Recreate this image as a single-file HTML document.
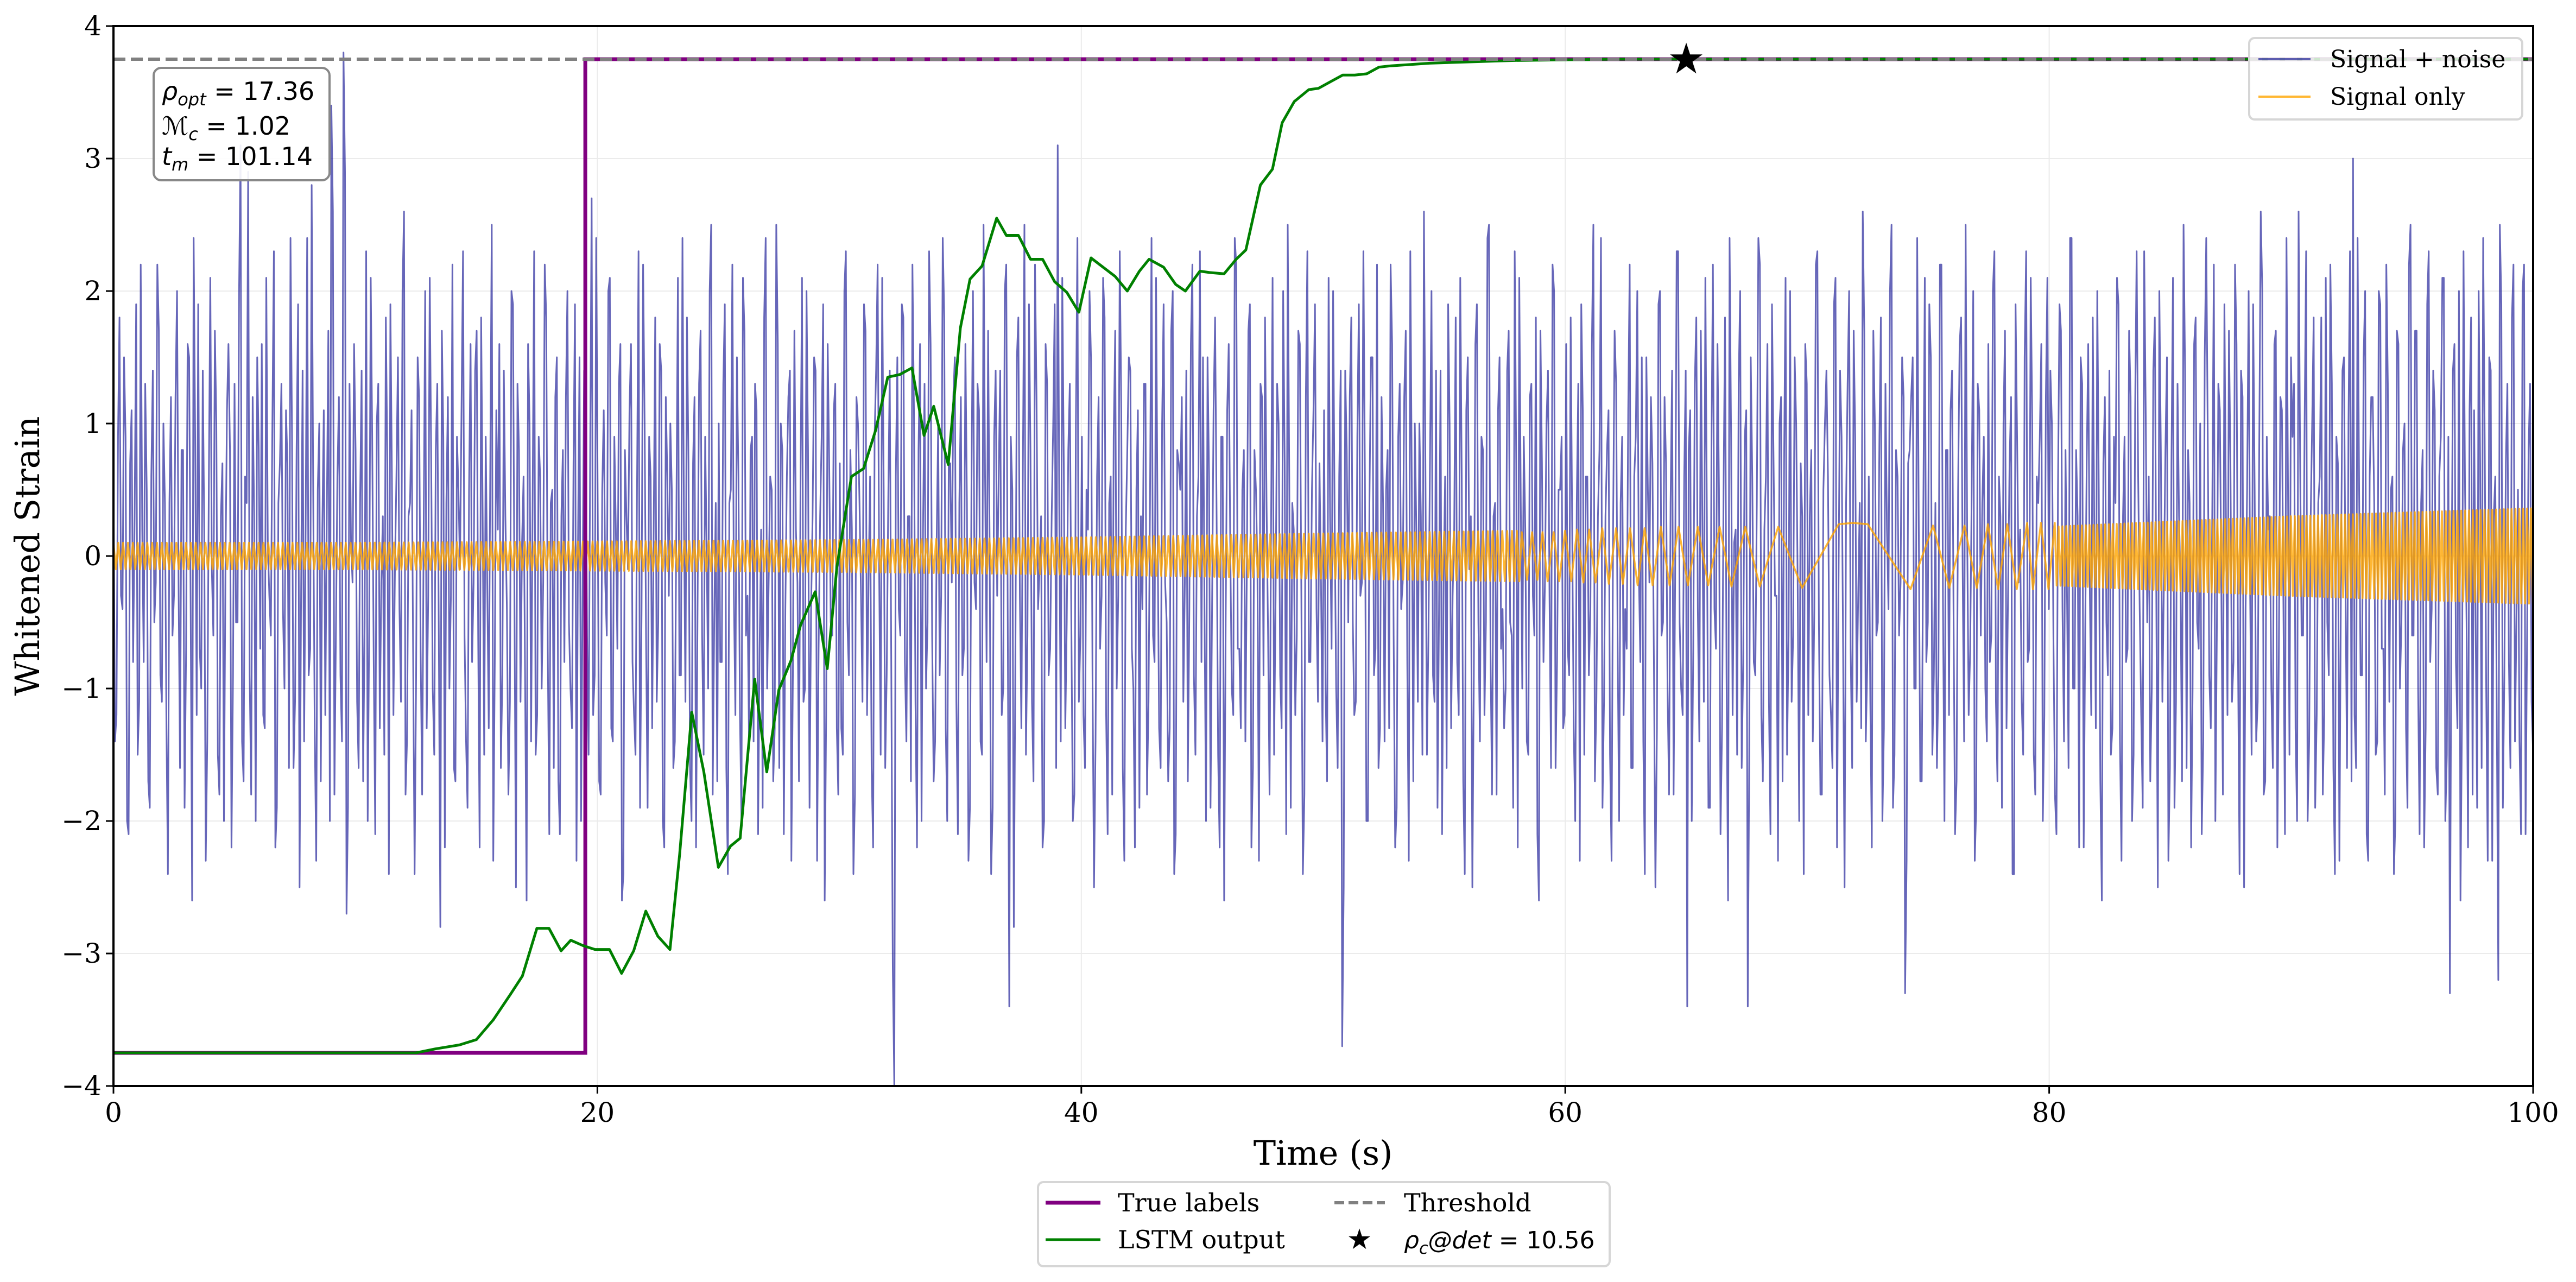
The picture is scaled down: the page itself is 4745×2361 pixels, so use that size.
<!DOCTYPE html>
<html><head><meta charset="utf-8"><style>
html,body{margin:0;padding:0;background:#fff;}
svg{display:block;}
text{font-family:"DejaVu Serif","Liberation Serif",serif;}
.m{font-family:"DejaVu Sans","Liberation Sans",sans-serif;}
</style></head><body>
<svg id="chart" width="4745" height="2361" viewBox="0 0 4745 2361" xmlns="http://www.w3.org/2000/svg">
<rect x="0" y="0" width="4745" height="2361" fill="#fff"/>
<g id="grid"></g>
<g id="series"></g>
<rect x="209" y="48" width="4457" height="1952" fill="none" stroke="#000" stroke-width="4"/>
<g id="ticks"></g>
<text x="2437" y="2145" font-size="62" text-anchor="middle">Time (s)</text>
<text transform="translate(72,1024) rotate(-90)" font-size="62" text-anchor="middle">Whitened Strain</text>

<g>
<rect x="283" y="125" width="324" height="207" rx="14" fill="#fff" fill-opacity="0.9" stroke="#888" stroke-width="4"/>
<text class="m" x="298" y="184" font-size="46"><tspan font-style="italic">ρ</tspan><tspan font-style="italic" font-size="32" dy="10">opt</tspan><tspan dy="-10"> = 17.36</tspan></text>
<text class="m" x="298" y="248" font-size="46"><tspan font-style="italic">ℳ</tspan><tspan font-style="italic" font-size="32" dy="10">c</tspan><tspan dy="-10"> = 1.02</tspan></text>
<text class="m" x="298" y="304" font-size="46"><tspan font-style="italic">t</tspan><tspan font-style="italic" font-size="32" dy="10">m</tspan><tspan dy="-10"> = 101.14</tspan></text>
</g>

<g>
<rect x="4143" y="70" width="503" height="150" rx="10" fill="#fff" fill-opacity="0.8" stroke="#d6d6d6" stroke-width="4"/>
<g>
<line x1="4160" y1="109" x2="4256" y2="109" stroke="#00008b" stroke-opacity="0.6" stroke-width="4"/>
<text x="4292" y="124" font-size="44">Signal + noise</text></g>
<g>
<line x1="4160" y1="178" x2="4256" y2="178" stroke="#ffa500" stroke-opacity="0.8" stroke-width="4"/>
<text x="4292" y="193" font-size="44">Signal only</text></g>
</g>

<g>
<rect x="1912" y="2177" width="1053" height="155" rx="10" fill="#fff" stroke="#d6d6d6" stroke-width="4"/>
<g>
<line x1="1926" y1="2215" x2="2027" y2="2215" stroke="#800080" stroke-width="7"/>
<text x="2059" y="2231" font-size="46">True labels</text></g>
<g>
<line x1="2458" y1="2215" x2="2551" y2="2215" stroke="#808080" stroke-width="6" stroke-dasharray="18,8"/>
<text x="2586" y="2231" font-size="46">Threshold</text></g>
<g>
<line x1="1926" y1="2283" x2="2027" y2="2283" stroke="#008000" stroke-width="5"/>
<text x="2059" y="2299" font-size="46">LSTM output</text></g>
<g>
<text x="2504" y="2300" font-size="52" text-anchor="middle" class="m">★</text>
<text class="m" x="2586" y="2299" font-size="44"><tspan font-style="italic">ρ</tspan><tspan font-style="italic" font-size="30" dy="10">c</tspan><tspan dy="-10" font-style="italic">@det</tspan><tspan> = 10.56</tspan></text></g>
</g>
</svg>
<script>
const xTicks=[0,20,40,60,80,100];
const yTicks=[-4,-3,-2,-1,0,1,2,3,4];
const noiseA=[
0.6,-1.2,1.8,-0.4,0.9,-2.1,1.1,0.3,-1.5,2.2,-0.8,0.5,-1.9,1.4,-0.2,1.7,-1.1,0.4,-2.4,1.2,
-0.3,2.0,-1.6,0.8,-0.7,1.5,-2.6,0.9,1.9,-1.0,0.2,-1.4,2.1,-0.6,1.0,-1.8,0.7,-0.1,1.6,-2.2,
1.3,-0.5,3.1,-1.7,0.4,-0.9,1.2,-2.0,0.8,1.6,-1.3,0.1,-0.6,2.3,-1.9,0.7,-0.4,1.1,-1.6,0.9,
-1.1,1.9,-0.3,-1.4,2.4,-0.7,0.5,-2.3,1.0,0.2,-1.2,1.7,3.4,-1.8,0.6,-0.9,3.8,-2.7,1.3,-0.2,
0.8,-1.6,1.4,-0.5,-2.0,2.1,-0.8,1.0,-1.3,0.3,1.8,-2.4,0.6,-0.1,1.5,-1.1,2.6,-1.4,0.4,-0.7,
-0.9,1.2,-1.8,2.0,-0.3,0.7,-1.5,1.3,-2.8,0.9,0.4,-1.0,2.2,-1.7,0.5,1.1,-0.6,-1.9,1.6,-0.2,
1.7,-2.2,0.3,0.9,-1.3,2.5,-0.8,0.2,-1.6,1.4,-0.4,-1.1,1.9,-2.5,0.8,0.1,-0.9,1.6,-1.4,2.3,
-1.2,0.6,-0.2,1.8,-2.1,0.5,1.2,-1.7,0.3,-0.8,2.0,-1.0,0.7,-2.3,1.5,-0.3,1.0,-1.5,2.7,-0.9,
0.4,-1.8,1.1,-0.6,2.1,-1.4,0.2,1.3,-2.6,0.8,-0.1,1.6,-1.2,0.5,-1.9,2.2,-0.7,0.9,-1.3,1.8,
-0.5,1.4,-2.2,0.6,1.0,-1.6,0.3,-0.9,2.4,-1.1,0.7,-2.0,1.2,-0.4,1.7,-1.5,0.1,2.0,-1.8,0.4,
1.0,-0.8,1.9,-2.4,0.5,-0.3,1.5,-1.2,2.1,-0.6,-1.4,0.9,1.3,-2.1,0.2,1.8,-1.0,0.6,-1.7,2.5,
-1.6,0.8,-0.4,1.2,-2.3,1.7,-0.2,0.5,-1.1,2.0,-1.9,0.3,1.4,-0.7,0.9,-2.6,1.6,-0.5,1.1,-1.3,
0.7,-1.5,2.3,-0.9,0.2,-1.8,1.0,-0.3,1.9,-1.2,0.6,-2.2,1.4,-0.1,2.1,-1.6,0.4,-0.8,-4.0,1.5,
-0.6,1.8,-1.4,0.3,2.2,-1.1,0.8,-2.0,1.3,-0.5,1.6,-1.7,0.1,-0.9,2.4,-1.3,0.7,-0.2,1.5,-2.1,
1.2,-0.7,0.4,-1.9,2.0,-0.4,1.1,-1.5,0.6,1.7,-2.4,0.9,-0.3,1.4,-1.0,2.2,-3.4,0.5,-0.8,1.8,
-1.3,2.5,-0.6,0.8,-1.7,1.2,-0.1,-2.2,1.6,-0.9,0.3,1.9,3.1,-1.4,0.7,-0.5,1.3,-2.0,1.0,-1.1,
0.9,-1.6,0.2,1.5,-2.5,0.6,-0.7,2.1,-1.2,0.4,-1.8,1.7,-0.3,1.1,-2.3,0.8,1.4,-1.0,0.5,-1.9,
-0.4,1.3,-1.1,2.4,-0.8,0.2,-1.6,1.9,-0.5,-1.3,2.0,-2.1,0.7,1.2,-0.2,-1.7,1.6,-0.9,0.3,2.3,
1.5,-2.0,0.6,-0.4,1.8,-1.5,0.9,-2.6,1.1,0.1,-1.2,2.2,-0.7,0.5,-1.4,1.7,-2.2,0.8,-0.1,1.3,
-0.9,0.4,-1.8,2.1,-0.3,1.0,-1.3,0.7,2.5,-1.9,0.2,-0.6,1.6,-2.4,1.2,-0.8,0.5,1.9,-1.1,-0.2,
1.1,-1.7,0.3,2.0,-1.0,0.6,-3.7,1.4,-0.5,1.8,-1.2,0.9,-0.3,2.3,-2.0,0.4,1.5,-0.7,-1.6,1.2,
-1.4,0.8,2.2,-0.6,-1.9,1.3,-0.2,1.7,-2.3,0.5,1.0,-1.1,0.3,2.6,-1.5,0.7,-0.9,1.4,-0.4,-2.1,
0.6,1.9,-1.3,0.2,-0.8,2.1,-1.7,1.1,-0.1,-2.5,1.6,-0.5,0.9,-1.2,2.4,-0.7,0.3,-1.8,1.5,-0.4,
-1.0,1.7,-0.6,2.3,-2.2,0.4,0.9,-1.4,1.2,-0.3,1.8,-2.6,0.7,-0.2,1.4,-1.6,2.0,-0.8,0.5,-1.3,
1.6,-0.9,0.2,-2.0,1.3,1.9,-1.5,0.6,-0.4,2.5,-1.1,0.8,-1.9,0.3,1.1,-2.3,1.7,-0.6,0.4,-1.2,
-0.7,2.2,-1.6,0.9,-0.1,1.5,-2.4,0.5,1.2,-0.8,-1.3,2.0,-0.5,0.7,-1.8,1.4,-0.2,2.3,-1.0,0.6,
-3.4,1.1,-0.7,1.8,-1.4,0.3,2.1,-1.9,0.8,-0.4,1.6,-2.1,0.5,-0.9,2.4,-1.2,0.2,1.3,-1.6,0.9,
-3.4,1.5,-0.8,0.4,2.2,-1.7,0.6,-1.1,1.9,-0.3,-2.3,1.2,0.7,-1.5,2.0,-0.6,1.0,-2.0,0.3,1.6,
-1.2,0.8,-0.4,2.3,-1.8,0.5,1.4,-0.9,-1.6,2.1,-0.2,0.9,-2.5,1.3,-0.7,1.7,-1.1,0.4,2.6,-1.4,
0.6,-2.2,1.0,-0.5,1.8,-1.3,0.2,2.0,-1.9,0.8,-0.6,1.5,-3.3,0.7,1.2,-1.0,2.4,-1.7,0.3,-0.8,
1.9,-1.5,0.4,-0.9,2.2,-2.0,0.8,1.1,-0.4,-1.7,1.6,-0.1,2.5,-1.2,0.5,-2.3,1.3,-0.6,0.9,-1.4,
-0.8,2.0,-1.1,0.6,-1.9,1.7,-0.3,1.2,-2.4,0.9,0.2,-1.5,2.3,-0.7,1.0,-1.8,0.4,1.6,-1.2,2.1,
1.4,-0.6,-2.1,1.9,-0.4,0.8,-1.6,2.4,-1.0,0.3,1.5,-2.2,0.7,-0.2,1.8,-1.3,0.5,-2.6,1.2,-0.9,
-1.5,0.9,2.1,-1.4,0.3,-0.8,1.7,-2.0,1.1,0.6,-1.2,2.3,-0.5,-1.7,1.4,-0.3,2.0,-1.1,0.8,-2.3,
0.7,-1.9,1.3,-0.2,2.5,-1.6,0.4,-1.0,1.8,-0.7,-2.1,1.5,0.9,-1.3,2.2,-0.6,1.1,-1.8,0.3,1.7,
-1.1,2.2,-0.8,1.4,-2.5,0.5,-0.3,1.9,-1.4,0.8,2.0,-1.7,0.2,-1.0,1.6,-2.2,1.2,-0.4,2.4,-1.5,
0.9,-1.3,2.6,-0.6,1.0,-2.0,0.3,1.8,-1.2,0.6,-1.8,2.1,-0.9,1.3,-2.4,0.7,-0.2,1.5,-1.6,2.3,
3.0,-1.6,0.5,-0.9,2.0,-2.3,1.2,0.4,-1.4,1.9,-0.7,2.2,-1.1,0.6,-2.0,1.6,-0.5,1.0,-1.9,2.5,
-0.6,1.7,-2.1,0.8,-1.3,2.3,-0.4,1.1,-1.8,0.9,2.1,-1.5,-3.3,1.4,-0.8,2.0,-1.2,0.5,-2.2,1.8,
1.1,-1.9,0.7,2.4,-1.0,1.5,-2.3,0.6,-3.2,1.9,-0.9,1.3,-1.6,2.2,-0.5,-1.4,2.0,-2.1,0.8,-1.1];
const noiseB=[
-1.4,0.9,-0.3,1.5,-2.0,0.7,-0.8,1.9,-1.1,0.2,1.3,-1.7,0.6,-0.5,2.2,-0.9,1.0,-1.3,0.4,-0.6,
1.2,-0.2,0.8,-1.9,1.6,-0.4,2.4,-1.2,-0.7,1.4,-2.3,0.5,-0.1,1.7,-1.5,0.3,-2.0,1.1,0.8,-0.9,
-0.5,2.0,-1.4,0.6,2.9,-1.8,0.3,1.5,-0.7,-1.2,2.1,-0.3,1.0,-2.2,0.4,1.3,-1.0,0.7,2.4,-1.6,
0.8,-2.5,1.4,0.2,-0.9,2.8,-1.3,0.5,-1.7,1.1,0.3,-2.0,2.6,-0.6,1.2,-1.4,2.9,-1.9,0.1,1.6,
-1.1,0.4,-1.7,2.3,-0.5,0.9,-2.1,1.3,-0.2,-1.5,0.7,1.9,-1.2,0.6,-0.4,2.0,-1.8,0.3,1.1,-2.4,
1.5,-0.7,0.2,-1.3,2.1,-1.0,0.8,-0.6,1.7,-2.2,1.2,-0.3,-1.6,0.9,-0.1,2.3,-1.4,0.5,-0.8,1.4,
-0.6,1.8,-1.5,-0.2,0.7,-2.3,1.1,1.6,-0.9,0.3,-1.8,2.0,-0.4,1.3,-1.1,0.6,-2.6,1.0,0.4,-1.5,
0.9,-1.0,2.2,-0.7,0.4,-1.6,1.5,-2.1,0.8,1.2,-0.5,-1.3,1.9,0.1,-2.0,1.4,-0.6,0.7,-1.2,2.4,
-1.7,0.5,-0.2,2.0,-1.3,0.9,-0.7,1.6,-2.4,0.3,1.1,-0.8,-1.5,2.3,-0.4,1.0,-1.9,0.6,0.2,-1.1,
1.6,-2.0,1.2,-0.3,0.5,-1.4,2.1,-0.9,0.3,1.8,-1.6,0.7,-2.2,1.3,-0.6,0.9,-1.0,2.5,-0.5,-1.7,
-0.8,1.3,-1.6,0.4,2.2,-1.2,0.6,-2.0,1.7,-0.3,0.8,-1.4,1.1,-0.7,-1.9,2.4,-0.2,0.5,-1.3,1.6,
1.0,-2.1,0.6,1.4,-0.9,0.2,-1.7,2.1,-1.0,0.8,-0.4,1.5,-2.3,0.3,1.9,-1.2,0.7,-0.6,1.3,-1.8,
-1.3,2.0,-0.5,0.8,-2.4,1.2,0.4,-1.1,1.7,-0.2,-1.6,0.9,2.2,-1.5,0.5,-0.9,1.4,-3.1,0.6,-0.4,
1.9,-0.8,0.3,-1.7,1.1,-2.2,1.6,0.2,-1.0,2.3,-0.6,-1.4,1.0,-0.3,1.8,-2.0,0.7,1.2,-1.1,0.4,
-0.9,1.6,-2.3,0.5,-0.2,1.3,-1.4,2.5,-0.8,0.1,-1.9,1.4,0.6,-1.2,2.0,-0.5,0.9,-2.8,1.5,-0.3,
0.7,-1.5,1.9,-1.1,2.2,-0.4,0.3,-2.0,1.3,-0.7,1.0,-1.6,0.4,2.1,-1.3,0.8,-0.5,-1.8,2.4,-0.6,
-1.2,0.5,2.0,-0.9,-1.4,1.2,-0.3,1.8,-2.1,0.6,0.9,-1.0,2.3,-1.6,0.2,1.5,-0.7,-2.2,1.1,0.3,
1.3,-1.8,0.4,-0.6,2.1,-1.3,1.0,-0.2,-1.7,1.7,-2.4,0.8,0.5,-1.1,1.4,-0.4,2.2,-1.5,0.6,-0.8,
-0.4,1.5,-1.9,1.1,0.3,-2.2,0.9,-0.5,1.6,-1.0,2.4,-0.7,-1.3,0.8,-0.1,1.9,-1.6,0.5,-2.3,1.2,
1.8,-0.6,0.2,-1.5,1.3,-0.9,2.0,-2.1,0.6,0.4,-1.2,1.7,-0.3,-1.8,2.3,-0.8,1.1,-0.4,0.7,-1.4,
-1.0,2.1,-0.7,0.3,-1.6,1.4,-2.5,0.8,1.2,-0.5,-1.1,1.9,-0.2,0.6,-2.0,1.5,-0.9,2.2,-1.3,0.4,
0.5,-1.3,1.6,-2.2,0.9,-0.4,1.2,-0.8,2.3,-1.7,0.2,1.0,-1.5,0.7,-0.6,2.0,-1.1,-1.9,1.4,-0.2,
-1.6,1.0,-0.3,1.8,-1.2,0.6,-2.4,1.5,0.3,-0.9,1.9,-1.4,0.8,-0.5,2.5,-1.8,0.4,1.1,-0.7,-1.3,
1.4,-0.5,-1.9,0.7,2.1,-1.0,0.2,-1.5,1.3,-0.6,-2.1,1.7,-0.8,1.0,-0.3,2.2,-1.6,0.5,0.9,-1.2,
-0.7,1.8,-1.3,0.4,-2.3,1.1,0.6,-0.9,1.6,-1.7,0.3,2.4,-1.1,0.8,-1.5,0.2,1.3,-2.0,0.9,-0.4,
1.1,-1.6,0.6,2.0,-0.8,-1.4,1.5,-0.2,0.7,-2.5,1.9,-0.6,1.2,-1.0,0.4,-1.8,2.3,-0.5,-1.2,1.4,
0.8,-2.0,1.3,-0.4,1.7,-1.1,0.3,-1.9,2.2,-0.7,0.5,-1.3,1.8,-2.6,0.9,0.1,-1.5,2.0,-0.8,1.1,
-1.5,0.6,-0.9,2.4,-1.2,0.2,1.6,-2.1,0.8,-0.3,1.0,-1.7,2.1,-0.6,-1.1,1.5,-0.2,0.7,-2.4,1.3,
0.3,-1.4,2.2,-0.5,-1.8,1.0,0.6,-1.2,1.9,-2.2,1.4,-0.7,0.4,2.0,-1.6,0.9,-0.3,-1.3,1.7,-0.8,
-1.1,1.7,-0.6,0.9,-2.0,1.3,-0.4,2.5,-1.5,0.6,-0.2,1.2,-2.3,0.8,1.5,-1.0,0.3,-1.7,2.1,-0.5,
1.5,-0.9,-1.6,2.2,-0.3,0.8,-1.2,1.4,-2.1,0.5,1.8,-1.4,0.2,-0.7,2.0,-1.9,1.1,0.4,-1.0,1.6,
-0.6,2.3,-1.7,0.3,1.0,-1.3,0.7,-2.4,1.9,-0.2,-1.1,1.5,-0.8,2.1,-1.5,0.6,0.9,-2.0,1.2,-0.4,
1.0,-1.8,0.5,1.7,-1.4,-0.3,2.4,-1.0,0.8,-2.2,1.3,-0.6,1.6,-1.2,0.2,2.0,-1.7,0.7,-0.5,1.4,
-1.3,0.4,1.9,-2.3,0.9,-0.7,1.2,-1.5,2.3,-0.4,-1.9,1.1,0.6,-1.0,1.8,-2.5,0.8,-0.2,1.5,-1.6,
2.1,-1.1,0.3,-1.7,1.4,0.8,-2.2,1.6,-0.5,1.0,-1.4,2.4,-0.9,0.4,-2.0,1.3,-0.3,1.9,-1.2,0.7,
-0.8,1.6,-2.4,1.2,-0.4,2.0,-1.5,0.5,-1.1,2.6,-1.8,0.9,0.3,-1.6,1.7,-0.7,1.1,-2.1,0.6,1.5,
1.3,-2.0,0.8,-0.6,2.3,-1.4,1.0,-1.9,0.4,1.8,-1.2,-0.5,2.2,-1.6,0.9,-2.3,1.4,-0.2,1.0,-1.7,
-1.2,2.4,-0.9,1.5,-2.1,0.6,1.2,-1.5,2.0,-0.7,-1.8,1.3,0.5,-2.4,1.7,-1.0,0.8,-1.3,2.2,-0.6,
1.7,-1.0,0.4,-2.2,1.9,-0.8,1.4,-1.6,0.6,2.1,-2.0,0.9,-0.4,1.6,-1.3,-2.6,2.3,-0.5,1.1,-1.8,
-0.5,2.0,-1.6,0.9,-2.3,1.4,0.3,-1.2,2.5,-1.9,0.7,-0.8,1.8,-1.4,0.5,-2.1,2.2,-0.6,1.3,-1.5];
const labelT=[0,19.5,19.5,100];
const labelV=[-3.75,-3.75,3.75,3.75];
const threshold=3.75;
const lstmT=[0,12.5,13.3,14.3,15,15.7,16.4,16.9,17.5,18,18.5,18.9,19.4,19.9,20.5,21,21.5,22,22.5,23,23.4,23.9,24.4,25,25.5,25.9,26.5,27,27.5,28,28.4,29,29.5,29.9,30.5,31,31.5,32,32.5,33,33.5,33.9,34.5,35,35.4,35.9,36.5,36.9,37.4,37.9,38.4,38.9,39.4,39.9,40.4,40.9,41.4,41.9,42.4,42.8,43.4,43.9,44.3,44.9,45.3,45.9,46.4,46.8,47.4,47.9,48.3,48.8,49.4,49.8,50.3,50.8,51.3,51.8,52.3,52.8,54.4,57.8,62,100];
const lstmV=[-3.75,-3.75,-3.72,-3.69,-3.65,-3.5,-3.31,-3.17,-2.81,-2.81,-2.98,-2.9,-2.94,-2.97,-2.97,-3.15,-2.98,-2.68,-2.87,-2.97,-2.25,-1.18,-1.63,-2.35,-2.19,-2.13,-0.93,-1.63,-1.01,-0.79,-0.52,-0.27,-0.85,-0.08,0.6,0.66,0.95,1.35,1.37,1.42,0.91,1.13,0.69,1.72,2.09,2.19,2.55,2.42,2.42,2.24,2.24,2.07,1.99,1.84,2.25,2.18,2.11,2.0,2.15,2.24,2.18,2.05,2.0,2.15,2.14,2.13,2.24,2.31,2.8,2.92,3.27,3.43,3.52,3.53,3.58,3.63,3.63,3.64,3.69,3.7,3.72,3.74,3.75,3.75];
const detT=65.0, detV=3.75;
const envT=[0,10,20,30,40,50,58,80,85,90,95,100];
const envAmp=[0.1,0.1,0.11,0.12,0.14,0.17,0.19,0.22,0.26,0.3,0.33,0.36];
const sigT=[58.2,58.42,58.63,58.85,59.06,59.27,59.52,59.75,59.99,60.25,60.49,60.75,60.99,61.25,61.53,61.8,62.1,62.38,62.68,62.99,63.28,63.61,63.95,64.31,64.68,65.07,65.48,65.91,66.38,66.87,67.44,68.04,68.8,69.79,71.3,71.9,72.5,74.27,75.2,75.87,76.5,77.01,77.47,77.89,78.27,78.66,79.09,79.33,79.66,79.97,80.23];
const sigV=[0.18,-0.18,0.18,-0.18,0.18,-0.19,0.18,-0.19,0.19,-0.19,0.2,-0.2,0.2,-0.2,0.21,-0.21,0.21,-0.21,0.21,-0.22,0.21,-0.22,0.22,-0.22,0.22,-0.22,0.22,-0.22,0.22,-0.23,0.22,-0.23,0.22,-0.24,0.24,0.25,0.24,-0.25,0.23,-0.24,0.23,-0.24,0.24,-0.25,0.24,-0.25,0.25,-0.25,0.25,-0.25,0.25];

const X0=209,X1=4666,Y0=2000,Y1=48;
function xs(t){return X0+(t-0)/(100-0)*(X1-X0);}
function ys(v){return Y0-(v+4)/8*(Y0-Y1);}
const NS="http://www.w3.org/2000/svg";
function mk(tag,attrs,parent){const e=document.createElementNS(NS,tag);for(const k in attrs)e.setAttribute(k,attrs[k]);parent.appendChild(e);return e;}
const grid=document.getElementById('grid'),ticks=document.getElementById('ticks'),series=document.getElementById('series');
xTicks.forEach(t=>{
 const g=mk('line',{x1:xs(t),x2:xs(t),y1:Y1,y2:Y0,stroke:'#ebebeb','stroke-width':2},grid);
 
 
 const tk=mk('line',{x1:xs(t),x2:xs(t),y1:Y0,y2:Y0+14,stroke:'#000','stroke-width':3},ticks);
 
 
 const lb=mk('text',{x:xs(t),y:Y0+66,'font-size':50,'text-anchor':'middle'},ticks);
 lb.textContent=String(t);
 
 
});
yTicks.forEach(v=>{
 const g=mk('line',{x1:X0,x2:X1,y1:ys(v),y2:ys(v),stroke:'#ebebeb','stroke-width':2},grid);
 
 
 const tk=mk('line',{x1:X0-14,x2:X0,y1:ys(v),y2:ys(v),stroke:'#000','stroke-width':3},ticks);
 
 
 const lb=mk('text',{x:X0-22,y:ys(v)+17,'font-size':50,'text-anchor':'end'},ticks);
 lb.textContent=(v<0?'\u2212'+Math.abs(v):String(v));
 
 
});
// noise: interleave the two sample arrays
const noiseVals=[];
noiseA.forEach((v,i)=>{noiseVals.push(v);if(i<noiseB.length)noiseVals.push(noiseB[i]);});
let d='';
const n=noiseVals.length;
noiseVals.forEach((v,i)=>{const t=i*100/(n-1);d+=(i?'L':'M')+xs(t).toFixed(1)+','+ys(v).toFixed(1);});
const noise=mk('path',{d:d,fill:'none',stroke:'#00008b','stroke-opacity':0.6,'stroke-width':3,'stroke-linejoin':'round'},series);


// signal only
function env(t){for(let i=0;i<envT.length-1;i++){if(t<=envT[i+1]){const f=(t-envT[i])/(envT[i+1]-envT[i]);return envAmp[i]+f*(envAmp[i+1]-envAmp[i]);}}return envAmp[envAmp.length-1];}
let sd='',k=0;
for(let t=0;t<sigT[0];t+=0.1,k++){sd+=(k?'L':'M')+xs(t).toFixed(1)+','+ys((k%2?-1:1)*env(t)).toFixed(1);}
sigT.forEach((t,i)=>{sd+='L'+xs(t).toFixed(1)+','+ys(sigV[i]).toFixed(1);});
k=1;
for(let t=sigT[sigT.length-1]+0.08;t<=100;t+=0.08,k++){sd+='L'+xs(t).toFixed(1)+','+ys((k%2?-1:1)*env(t)).toFixed(1);}
const sig=mk('path',{d:sd,fill:'none',stroke:'#ffa500','stroke-opacity':0.8,'stroke-width':3.5,'stroke-linejoin':'round'},series);


// true labels
const lab=mk('polyline',{points:labelT.map((t,i)=>xs(t)+','+ys(labelV[i])).join(' '),fill:'none',stroke:'#800080','stroke-width':7},series);


// lstm
const ls=mk('polyline',{points:lstmT.map((t,i)=>xs(t)+','+ys(lstmV[i])).join(' '),fill:'none',stroke:'#008000','stroke-width':5,'stroke-linejoin':'round'},series);


// threshold
const th=mk('line',{x1:X0,x2:X1,y1:ys(threshold),y2:ys(threshold),stroke:'#808080','stroke-width':6,'stroke-dasharray':'22,10'},series);


// star
const st=mk('text',{x:xs(detT),y:ys(detV)+26,'font-size':78,'text-anchor':'middle',class:'m'},series);
st.textContent='★';


</script>
</body></html>
